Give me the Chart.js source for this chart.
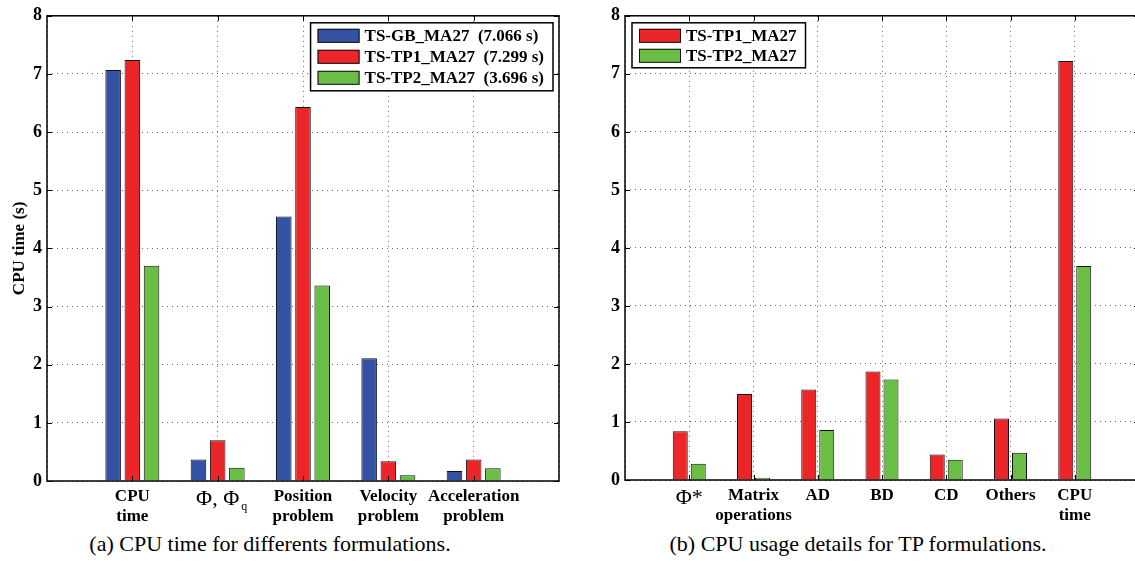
<!DOCTYPE html>
<html>
<head>
<meta charset="utf-8">
<script src="https://cdn.jsdelivr.net/npm/chart.js@4/dist/chart.umd.min.js"></script>
<style>
  html, body { margin: 0; padding: 0; background: #fff; }
  body { width: 1135px; height: 570px; overflow: hidden; position: relative; }
  canvas { position: absolute; top: 0; }
  #leftChart { left: 0; }
  #rightChart { left: 575px; }
  .caption {
    position: absolute; top: 531px; width: 600px; text-align: center;
    font-family: 'Liberation Serif', 'Times New Roman', serif; font-size: 22px;
    line-height: 26px; color: #000;
  }
</style>
</head>
<body>
<canvas id="leftChart" width="570" height="530"></canvas>
<canvas id="rightChart" width="575" height="530"></canvas>
<div class="caption" style="left:-30px">(a) CPU time for differents formulations.</div>
<div class="caption" style="left:558px">(b) CPU usage details for TP formulations.</div>
<script>
// --- data (a): CPU time for each formulation ---
const leftCategories = [['CPU', 'time'], 'Φ, Φ', ['Position', 'problem'], ['Velocity', 'problem'], ['Acceleration', 'problem']];
const leftSeriesLabels = ['TS-GB_MA27  (7.066 s)', 'TS-TP1_MA27  (7.299 s)', 'TS-TP2_MA27  (3.696 s)'];
const gbValues = [7.07, 0.37, 4.55, 2.11, 0.17];
const tp1Values = [7.24, 0.70, 6.43, 0.34, 0.37];
const tp2Values = [3.70, 0.23, 3.36, 0.10, 0.22];

// --- data (b): CPU usage details for TP formulations ---
const rightCategories = ['Φ*', ['Matrix', 'operations'], 'AD', 'BD', 'CD', 'Others', ['CPU', 'time']];
const rightSeriesLabels = ['TS-TP1_MA27', 'TS-TP2_MA27'];
const tp1Detail = [0.84, 1.48, 1.56, 1.87, 0.44, 1.06, 7.22];
const tp2Detail = [0.28, 0.04, 0.86, 1.73, 0.35, 0.47, 3.69];

const yMin = 0, yMax = 8, yStep = 1;
const yTitle = 'CPU time (s)';

const FONT = "'Liberation Serif', 'Times New Roman', serif";
const BLUE = '#3352a4', RED = '#ec2528', GREEN = '#6abe45';
const BIG_LABELS = ['Φ, Φ', 'Φ*']; // symbol labels use a larger, non-bold font

// empty slots at both ends, like a matlab bar axis (range 0..n+1)
const pad = arr => [''].concat(arr, ['']);
const padData = arr => [null].concat(arr, [null]);

// frame + inward tick marks on all four sides
const framePlugin = {
  id: 'frame',
  afterDraw(chart) {
    const { ctx, chartArea: a, scales } = chart;
    ctx.save();
    ctx.setLineDash([]);
    ctx.strokeStyle = '#000';
    ctx.lineWidth = 1.5;
    ctx.strokeRect(a.left, a.top, a.right - a.left, a.bottom - a.top);
    ctx.lineWidth = 1;
    ctx.beginPath();
    const n = scales.x.ticks.length;
    for (let i = 1; i < n - 1; i++) {
      const x = Math.round(scales.x.getPixelForTick(i)) + 0.5;
      ctx.moveTo(x, a.top); ctx.lineTo(x, a.top + 5);
      ctx.moveTo(x, a.bottom); ctx.lineTo(x, a.bottom - 5);
    }
    scales.y.ticks.forEach((t, i) => {
      const y = Math.round(scales.y.getPixelForTick(i)) + 0.5;
      ctx.moveTo(a.left, y); ctx.lineTo(a.left + 5, y);
      ctx.moveTo(a.right, y); ctx.lineTo(a.right - 5, y);
    });
    ctx.stroke();
    ctx.restore();
  }
};

// boxed legend inside the plot area
const boxLegend = {
  id: 'boxLegend',
  afterDatasetsDraw(chart, args, opts) {
    const { ctx, chartArea: a } = chart;
    const sets = chart.data.datasets;
    ctx.save();
    ctx.setLineDash([]);
    ctx.font = `bold ${opts.fontSize}px ${FONT}`;
    const textW = Math.max(...sets.map(d => ctx.measureText(d.label).width));
    const w = 7 + 42 + 5 + textW + 9;
    const h = sets.length * opts.rowH + 5;
    const x = opts.align === 'right' ? a.right - 6 - w : a.left + 7;
    const y = a.top + 7;
    ctx.fillStyle = '#fff';
    ctx.fillRect(x, y, w, h);
    ctx.strokeStyle = '#000';
    ctx.lineWidth = 1.5;
    ctx.strokeRect(x, y, w, h);
    ctx.lineWidth = 1;
    sets.forEach((d, i) => {
      const ry = y + 6 + i * opts.rowH;
      ctx.fillStyle = d.backgroundColor;
      ctx.fillRect(x + 7, ry, 42, 14);
      ctx.strokeStyle = '#111';
      ctx.strokeRect(x + 7.5, ry + 0.5, 41, 13);
      ctx.fillStyle = '#000';
      ctx.textBaseline = 'middle';
      ctx.fillText(d.label, x + 7 + 42 + 5, ry + 8);
    });
    ctx.restore();
  }
};

// subscript "q" after the "Φ, Φ" tick label
const subscriptPlugin = {
  id: 'subscriptQ',
  afterDraw(chart) {
    const xs = chart.scales.x;
    const idx = chart.data.labels.indexOf('Φ, Φ');
    if (idx < 0) return;
    const ctx = chart.ctx;
    ctx.save();
    ctx.font = `22px ${FONT}`;
    const w = ctx.measureText('Φ, Φ').width;
    const x = xs.getPixelForTick(idx) + w / 2 + 2;
    ctx.font = `12px ${FONT}`;
    ctx.fillStyle = '#000';
    ctx.textBaseline = 'alphabetic';
    ctx.fillText('q', x, xs.top + 29);
    ctx.restore();
  }
};

function makeChart(id, labels, datasets, opt) {
  return new Chart(document.getElementById(id), {
    type: 'bar',
    data: {
      labels: pad(labels),
      datasets: datasets.map(d => ({
        label: d.label,
        data: padData(d.data),
        backgroundColor: d.color,
        borderColor: '#111',
        borderWidth: 1,
        categoryPercentage: opt.catPct,
        barPercentage: opt.barPct,
      })),
    },
    options: {
      responsive: false,
      animation: false,
      layout: { padding: { top: opt.top, right: 11, left: 0, bottom: 0 } },
      plugins: {
        legend: { display: false },
        tooltip: { enabled: false },
        boxLegend: { align: opt.legendAlign, fontSize: 17, rowH: opt.rowH },
      },
      scales: {
        x: {
          offset: false,
          grid: { offset: false, drawTicks: false, color: '#666', lineWidth: 1 },
          border: { display: false, dash: [1, 4] },
          afterFit: s => { s.height = opt.xHeight; },
          ticks: {
            autoSkip: false,
            maxRotation: 0,
            padding: 5,
            color: '#000',
            font: c => {
              const lab = c.chart.data.labels[c.index];
              return BIG_LABELS.includes(lab)
                ? { family: FONT, size: 22, weight: 'normal', lineHeight: 1.2 }
                : { family: FONT, size: 17, weight: 'bold', lineHeight: 1.2 };
            },
          },
        },
        y: {
          min: yMin, max: yMax,
          grid: { drawTicks: false, color: '#666', lineWidth: 1 },
          border: { display: false, dash: [1, 4] },
          afterFit: s => { s.width = opt.yWidth; },
          ticks: { stepSize: yStep, padding: 5, color: '#000', font: { family: FONT, size: 18, weight: 'bold' } },
          title: {
            display: !!opt.yTitle, text: opt.yTitle, color: '#000',
            padding: { top: 9, bottom: 0 },
            font: { family: FONT, size: 17, weight: 'bold' },
          },
        },
      },
    },
    plugins: [framePlugin, boxLegend, subscriptPlugin],
  });
}

makeChart('leftChart', leftCategories, [
  { label: leftSeriesLabels[0], data: gbValues, color: BLUE },
  { label: leftSeriesLabels[1], data: tp1Values, color: RED },
  { label: leftSeriesLabels[2], data: tp2Values, color: GREEN },
], { top: 10, xHeight: 49, yWidth: 47, catPct: 0.675, barPct: 0.81, legendAlign: 'right', rowH: 21, yTitle: yTitle });

makeChart('rightChart', rightCategories, [
  { label: rightSeriesLabels[0], data: tp1Detail, color: RED },
  { label: rightSeriesLabels[1], data: tp2Detail, color: GREEN },
], { top: 7, xHeight: 50, yWidth: 50, catPct: 0.56, barPct: 0.833, legendAlign: 'left', rowH: 20, yTitle: '' });
</script>
</body>
</html>
